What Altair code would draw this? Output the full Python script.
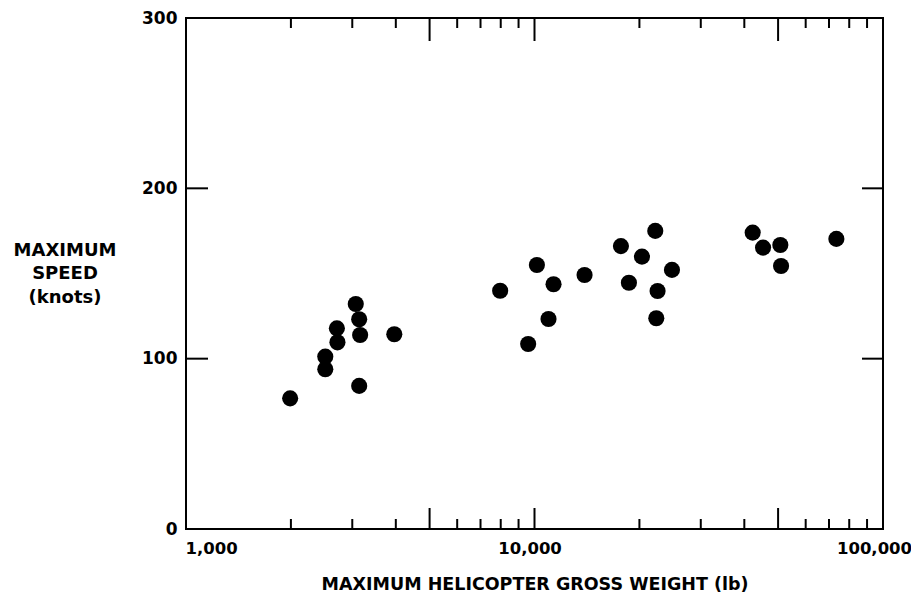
import altair as alt
import pandas as pd

# ---- data ----
weight_lb = [1990, 2510, 2510, 2710, 2720, 3070, 3140, 3160, 3140, 3960,
             7970, 10160, 11340, 10970, 9590, 13920, 17700, 22210, 20340,
             18660, 24800, 22550, 22360,
             42270, 45270, 50750, 50990, 73480]
speed_kt = [76.7, 101.2, 93.8, 117.8, 109.6, 132.1, 123.1, 113.9, 84.0, 114.3,
            139.9, 155.0, 143.7, 123.3, 108.6, 149.1, 166.1, 175.0, 159.9,
            144.6, 152.1, 139.7, 123.7,
            174.0, 165.2, 166.7, 154.4, 170.3]

x_label_values = [1000, 10000, 100000]
x_major_ticks = [5000, 10000, 50000]
x_minor_ticks = [2000, 3000, 4000, 6000, 7000, 8000, 9000,
                 20000, 30000, 40000, 60000, 70000, 80000, 90000]
y_label_values = [0, 100, 200, 300]
y_major_ticks = [100, 200]

x_title = "MAXIMUM HELICOPTER GROSS WEIGHT (lb)"
y_title = ["MAXIMUM", "SPEED", "(knots)"]

W, H = 697, 511
FONT = "DejaVu Sans"

pts = pd.DataFrame({"weight": weight_lb, "speed": speed_kt})
xmaj = pd.DataFrame({"weight": x_major_ticks})
xmin = pd.DataFrame({"weight": x_minor_ticks})
ymaj = pd.DataFrame({"speed": y_major_ticks})

xs = alt.Scale(type="log", domain=[1000, 100000], nice=False)
ys = alt.Scale(domain=[0, 300], nice=False, zero=False)

points = alt.Chart(pts).mark_circle(size=260, color="black", opacity=1).encode(
    x=alt.X("weight:Q", scale=xs,
            axis=alt.Axis(values=x_label_values, format=",", grid=False,
                          ticks=False, tickSize=0, domain=False,
                          labelFont=FONT, labelFontSize=16.5, labelFontWeight="bold",
                          labelColor="black", labelPadding=11,
                          labelAlign={"condition": {"test": "datum.value <= 1000", "value": "left"},
                                      "value": "center"},
                          labelOffset={"condition": [
                              {"test": "datum.value <= 1000", "value": -1},
                              {"test": "datum.value >= 100000", "value": -9}],
                              "value": -5},
                          title=x_title, titleFont=FONT, titleFontSize=17.5,
                          titleFontWeight="bold", titleColor="black",
                          titleBaseline="alphabetic", titleY=60)),
    y=alt.Y("speed:Q", scale=ys,
            axis=alt.Axis(values=y_label_values, grid=False, ticks=False, tickSize=0,
                          domain=False, labelFont=FONT, labelFontSize=17,
                          labelFontWeight="bold", labelColor="black", labelPadding=9,
                          title=y_title, titleFont=FONT, titleFontSize=18,
                          titleFontWeight="bold", titleColor="black", titleAngle=0,
                          titleAlign="center", titleBaseline="alphabetic",
                          titleLineHeight=23.5, titleX=-121.5, titleY=237)),
)

rule = dict(color="black", strokeWidth=2, strokeCap="butt")

xb_min = alt.Chart(xmin).mark_rule(**rule).encode(
    x=alt.X("weight:Q", scale=xs), y=alt.value(H), y2=alt.value(H - 10))
xt_min = alt.Chart(xmin).mark_rule(**rule).encode(
    x=alt.X("weight:Q", scale=xs), y=alt.value(0), y2=alt.value(10))
xb_maj = alt.Chart(xmaj).mark_rule(**rule).encode(
    x=alt.X("weight:Q", scale=xs), y=alt.value(H), y2=alt.value(H - 21))
xt_maj = alt.Chart(xmaj).mark_rule(**rule).encode(
    x=alt.X("weight:Q", scale=xs), y=alt.value(0), y2=alt.value(23))
yl_maj = alt.Chart(ymaj).mark_rule(**rule).encode(
    y=alt.Y("speed:Q", scale=ys), x=alt.value(0), x2=alt.value(22))
yr_maj = alt.Chart(ymaj).mark_rule(**rule).encode(
    y=alt.Y("speed:Q", scale=ys), x=alt.value(W), x2=alt.value(W - 21))

chart = alt.layer(points, xb_min, xt_min, xb_maj, xt_maj, yl_maj, yr_maj).properties(
    width=W, height=H,
    padding={"left": 178, "top": 10, "right": 28, "bottom": 64},
    autosize="none",
    background="white",
).configure_view(stroke="black", strokeWidth=2)

chart.save("out.html", embed_options={"renderer": "svg", "actions": False})
